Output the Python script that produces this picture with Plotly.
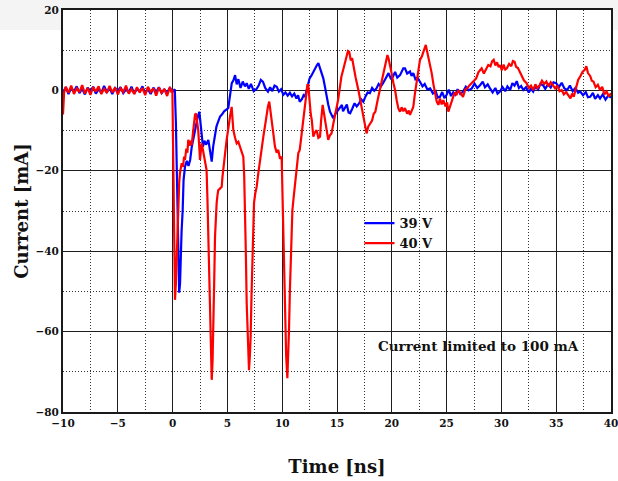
import plotly.graph_objects as go

# Oscilloscope current traces: (time [ns], current [mA])
BLUE_39V = [
    (-10.0, -0.5), (-9.75, 0.8), (-9.5, -0.9), (-9.25, 0.6), (-9.0, -0.3), (-8.75, 1.0),
    (-8.5, -0.7), (-8.25, 0.4), (-8.0, -1.0), (-7.75, 0.7), (-7.5, -0.2), (-7.25, 0.9),
    (-7.0, -0.8), (-6.75, 0.3), (-6.5, -0.6), (-6.25, 1.1), (-6.0, -0.4), (-5.75, 0.5),
    (-5.5, -0.9), (-5.25, 0.6), (-5.0, -0.2), (-4.75, 0.8), (-4.5, -0.7), (-4.25, 0.2),
    (-4.0, -0.5), (-3.75, 0.9), (-3.5, -0.8), (-3.25, 0.4), (-3.0, -0.3), (-2.75, 1.0),
    (-2.5, -0.6), (-2.25, 0.3), (-2.0, -0.9), (-1.75, 0.7), (-1.5, -0.4), (-1.25, 0.8),
    (-1.0, -0.7), (-0.75, 0.2), (-0.5, -0.5), (-0.25, 0.6), (0.0, -0.3), (0.2, 0.3),
    (0.3, -8.0), (0.4, -25.0), (0.5, -42.0), (0.6, -50.3), (0.68, -48.0), (0.74, -41.4),
    (0.82, -35.0), (0.92, -29.8), (1.0, -22.3), (1.13, -19.0), (1.3, -17.5), (1.45, -18.8),
    (1.6, -17.3), (1.75, -14.0), (1.9, -12.0), (2.05, -9.5), (2.2, -7.4), (2.3, -6.5),
    (2.44, -5.3), (2.55, -8.0), (2.65, -11.0), (2.77, -14.0), (2.9, -12.5), (3.05, -13.5),
    (3.26, -12.3), (3.4, -15.0), (3.57, -17.7), (3.7, -14.0), (3.87, -10.6), (4.0, -9.0),
    (4.15, -7.8), (4.33, -6.5), (4.5, -6.0), (4.7, -5.2), (4.9, -4.8), (5.08, -4.4),
    (5.2, -2.0), (5.3, 0.5), (5.4, 1.8), (5.55, 2.5), (5.7, 3.8), (5.85, 1.5),
    (6.0, 2.8), (6.2, 0.6), (6.4, 2.2), (6.6, 1.0), (6.76, 1.8), (6.95, 0.4),
    (7.15, 1.6), (7.4, -0.2), (7.67, 0.4), (7.85, 1.2), (8.05, 2.6), (8.25, 2.1),
    (8.45, 0.6), (8.7, -0.3), (8.9, 0.8), (9.1, -0.2), (9.3, 1.2), (9.5, 0.9),
    (9.7, -0.3), (9.9, 0.3), (10.1, -1.1), (10.3, -0.5), (10.5, -1.3), (10.7, -0.6),
    (10.9, -1.5), (11.1, -0.8), (11.3, -2.0), (11.45, -1.2), (11.6, -2.8), (11.8, -2.2),
    (11.95, -1.2), (12.08, -1.6), (12.25, 0.5), (12.4, 1.8), (12.5, 3.0), (12.65, 3.6),
    (12.84, 4.7), (13.0, 5.5), (13.15, 6.2), (13.3, 6.8), (13.45, 5.6), (13.6, 4.7),
    (13.75, 3.0), (13.9, 0.9), (14.05, -1.5), (14.2, -3.5), (14.36, -5.3), (14.5, -6.2),
    (14.66, -6.9), (14.85, -5.8), (15.05, -5.0), (15.27, -4.4), (15.45, -3.6), (15.55, -5.2),
    (15.7, -4.4), (15.9, -3.5), (16.05, -5.5), (16.2, -5.7), (16.4, -4.5), (16.6, -3.2),
    (16.8, -4.0), (17.0, -3.3), (17.2, -2.2), (17.4, -2.8), (17.6, -1.5), (17.8, -0.5),
    (18.0, -0.7), (18.2, 0.6), (18.4, -0.1), (18.6, 0.5), (18.8, 1.6), (19.0, 1.0),
    (19.2, 1.8), (19.4, 2.8), (19.55, 3.5), (19.7, 4.3), (19.9, 3.0), (20.1, 3.4),
    (20.3, 4.6), (20.5, 3.2), (20.75, 3.8), (20.95, 4.8), (21.05, 5.5), (21.2, 5.5),
    (21.4, 4.2), (21.66, 4.7), (21.8, 3.6), (21.96, 4.3), (22.15, 2.8), (22.35, 3.2),
    (22.57, 2.2), (22.8, 1.0), (23.0, 1.6), (23.25, 0.2), (23.5, 0.5), (23.75, -0.8),
    (24.0, -0.2), (24.2, -1.8), (24.4, -1.6), (24.6, -0.4), (24.8, -1.9), (25.0, -1.1),
    (25.2, 0.2), (25.4, -1.4), (25.6, -0.5), (25.8, -1.1), (26.0, 0.3), (26.25, -0.9),
    (26.5, -0.3), (26.75, 0.9), (27.0, 0.0), (27.3, 0.5), (27.55, 1.7), (27.8, 0.6),
    (28.05, 1.3), (28.3, 2.2), (28.5, 0.8), (28.75, 1.5), (28.96, 0.5), (29.2, -0.5),
    (29.45, 0.6), (29.65, -0.8), (29.87, -0.3), (30.1, 0.8), (30.35, -0.2), (30.55, 1.0),
    (30.8, 0.1), (31.0, 1.8), (31.2, 1.2), (31.4, 2.3), (31.6, 0.6), (31.8, 1.1),
    (32.0, 0.1), (32.25, 0.8), (32.5, -0.5), (32.7, 0.4), (32.9, -0.3), (33.1, 0.9),
    (33.35, 0.2), (33.55, 1.6), (33.8, 1.3), (34.0, 0.4), (34.25, 1.5), (34.5, 0.7),
    (34.75, 2.0), (35.0, 1.8), (35.25, 0.8), (35.5, 1.9), (35.75, 0.5), (36.0, 0.1),
    (36.25, 1.2), (36.5, -0.2), (36.75, 0.6), (37.0, -0.6), (37.2, -0.3), (37.45, -1.2),
    (37.7, -0.4), (37.9, -1.7), (38.1, -1.6), (38.35, -0.6), (38.55, -2.1), (38.8, -1.2),
    (39.0, -2.0), (39.25, -1.0), (39.5, -2.3), (39.75, -1.3), (40.0, -1.8),
]

RED_40V = [
    (-10.0, -6.0), (-9.9, -0.5), (-9.75, 0.9), (-9.5, -0.6), (-9.25, 1.2), (-9.0, -0.9),
    (-8.75, 0.5), (-8.5, -0.4), (-8.25, 1.3), (-8.0, -0.8), (-7.75, 0.6), (-7.5, -1.1),
    (-7.25, 0.8), (-7.0, -0.3), (-6.75, 1.0), (-6.5, -0.9), (-6.25, 0.4), (-6.0, -0.6),
    (-5.75, 1.1), (-5.5, -0.5), (-5.25, 0.7), (-5.0, -1.0), (-4.75, 0.5), (-4.5, -0.4),
    (-4.25, 1.2), (-4.0, -0.8), (-3.75, 0.3), (-3.5, -0.9), (-3.25, 0.8), (-3.0, -0.5),
    (-2.75, 0.6), (-2.5, -1.2), (-2.25, 0.9), (-2.0, -0.4), (-1.75, 0.5), (-1.5, -1.3),
    (-1.25, 0.7), (-1.0, -0.6), (-0.75, 0.4), (-0.5, -1.4), (-0.25, 0.8), (-0.1, -0.5),
    (-0.02, 0.3), (0.08, -25.0), (0.16, -45.0), (0.22, -52.1), (0.3, -48.0), (0.37, -41.4),
    (0.45, -34.0), (0.52, -28.0), (0.6, -23.0), (0.67, -20.6), (0.75, -19.5), (0.83, -18.1),
    (0.95, -19.0), (1.05, -16.5), (1.13, -17.3), (1.25, -14.5), (1.35, -15.5), (1.43, -12.3),
    (1.55, -13.8), (1.65, -12.5), (1.74, -13.6), (1.85, -10.5), (1.95, -8.0), (2.04, -6.1),
    (2.13, -5.7), (2.22, -7.5), (2.34, -9.9), (2.42, -13.5), (2.5, -17.3), (2.58, -15.0),
    (2.65, -13.2), (2.75, -14.5), (2.89, -16.5), (3.0, -18.2), (3.1, -19.8), (3.18, -27.0),
    (3.26, -36.4), (3.34, -45.0), (3.41, -52.9), (3.5, -66.0), (3.57, -72.0), (3.65, -67.0),
    (3.72, -60.4), (3.8, -47.0), (3.87, -36.4), (3.95, -31.0), (4.02, -28.0), (4.1, -26.0),
    (4.17, -24.8), (4.3, -24.5), (4.48, -24.0), (4.55, -21.5), (4.63, -19.0), (4.75, -16.0),
    (4.85, -14.2), (4.93, -12.3), (5.05, -9.5), (5.15, -7.8), (5.24, -6.5), (5.39, -4.1),
    (5.47, -6.5), (5.54, -9.9), (5.7, -11.8), (5.85, -13.2), (6.0, -12.8), (6.15, -14.0),
    (6.3, -15.2), (6.45, -16.5), (6.53, -21.0), (6.6, -28.0), (6.68, -40.0), (6.76, -52.9),
    (6.85, -62.0), (6.97, -69.6), (7.05, -66.0), (7.12, -61.2), (7.2, -51.0), (7.27, -41.4),
    (7.35, -34.0), (7.43, -28.0), (7.55, -25.5), (7.67, -24.0), (7.8, -21.0), (7.97, -17.3),
    (8.1, -14.5), (8.28, -11.5), (8.45, -8.5), (8.58, -5.7), (8.7, -4.0), (8.82, -2.8),
    (8.93, -4.8), (9.04, -7.4), (9.18, -10.5), (9.34, -14.0), (9.5, -15.5), (9.64, -14.8),
    (9.8, -17.0), (9.95, -16.5), (10.02, -25.0), (10.1, -36.4), (10.18, -47.0), (10.26, -57.1),
    (10.36, -66.0), (10.47, -71.6), (10.55, -67.0), (10.62, -59.6), (10.7, -50.0), (10.78, -41.4),
    (10.85, -35.0), (10.93, -29.8), (11.05, -26.5), (11.17, -24.0), (11.3, -20.0), (11.47, -15.6),
    (11.6, -14.8), (11.78, -10.7), (11.95, -7.0), (12.08, -3.2), (12.2, -0.5), (12.3, 1.3),
    (12.38, 1.3), (12.5, -3.5), (12.6, -5.8), (12.7, -7.4), (12.84, -11.5), (12.98, -10.5),
    (13.14, -9.9), (13.3, -11.8), (13.45, -11.5), (13.55, -7.5), (13.69, -3.6), (13.8, -5.5),
    (13.9, -7.4), (14.05, -10.0), (14.2, -12.3), (14.35, -11.2), (14.5, -10.7), (14.65, -8.5),
    (14.8, -6.5), (14.95, -4.5), (15.1, -2.4), (15.25, 0.5), (15.4, 3.4), (15.6, 5.5),
    (15.75, 7.0), (15.88, 8.4), (16.0, 9.8), (16.12, 9.6), (16.25, 7.5), (16.38, 8.0),
    (16.5, 5.9), (16.7, 3.2), (16.95, 0.1), (17.1, -2.2), (17.25, -4.4), (17.45, -7.5),
    (17.6, -9.2), (17.7, -10.7), (17.85, -9.0), (18.0, -8.2), (18.2, -7.5), (18.35, -5.8),
    (18.5, -5.3), (18.7, -2.5), (18.9, 0.1), (19.05, 2.0), (19.2, 4.3), (19.4, 6.5),
    (19.5, 7.8), (19.6, 8.8), (19.7, 8.0), (19.85, 5.5), (19.98, 4.3), (20.15, 1.8),
    (20.3, 0.1), (20.45, -2.5), (20.6, -4.5), (20.75, -5.3), (20.9, -4.2), (21.05, -5.2),
    (21.2, -4.4), (21.4, -5.8), (21.55, -5.0), (21.66, -6.1), (21.8, -5.0), (21.96, -4.1),
    (22.1, -1.0), (22.27, 2.6), (22.4, 5.0), (22.57, 7.6), (22.75, 8.5), (22.9, 9.8),
    (23.0, 10.5), (23.1, 11.3), (23.2, 10.0), (23.33, 8.4), (23.5, 6.5), (23.64, 4.3),
    (23.8, 1.5), (23.94, -0.7), (24.1, -2.8), (24.25, -3.6), (24.4, -2.0), (24.55, -3.5),
    (24.7, -2.4), (24.9, -4.0), (25.05, -3.0), (25.16, -5.3), (25.3, -4.0), (25.45, -2.5),
    (25.6, -1.6), (25.75, -0.5), (25.9, -1.2), (26.07, 0.1), (26.25, -0.6), (26.5, -1.6),
    (26.7, 0.2), (26.9, 0.6), (27.1, 1.3), (27.3, 2.0), (27.5, 2.4), (27.7, 3.0),
    (27.9, 4.5), (28.05, 5.0), (28.2, 5.5), (28.4, 4.2), (28.6, 5.1), (28.8, 6.3),
    (29.0, 6.0), (29.15, 7.2), (29.3, 7.6), (29.45, 6.2), (29.6, 7.0), (29.75, 5.8),
    (29.87, 6.3), (30.05, 5.0), (30.2, 6.4), (30.35, 5.2), (30.5, 5.5), (30.7, 6.6),
    (30.9, 6.0), (31.05, 7.3), (31.2, 7.1), (31.35, 5.8), (31.5, 5.6), (31.7, 4.3),
    (31.85, 3.8), (32.05, 2.5), (32.3, 1.8), (32.5, 0.6), (32.7, 1.2), (32.9, 0.1),
    (33.1, 1.5), (33.3, 0.6), (33.5, 1.3), (33.7, 2.4), (33.9, 1.6), (34.1, 2.2),
    (34.3, 1.0), (34.5, 2.0), (34.7, 1.3), (34.9, 0.5), (35.1, 1.2), (35.3, -0.2),
    (35.5, 0.1), (35.7, -1.0), (35.9, -0.4), (36.1, -1.1), (36.3, -2.0), (36.45, -0.8),
    (36.6, -1.6), (36.8, 0.5), (37.0, 2.6), (37.2, 3.5), (37.4, 4.6), (37.6, 5.1),
    (37.75, 6.0), (37.9, 4.3), (38.1, 3.6), (38.25, 2.4), (38.4, 2.2), (38.6, 0.8),
    (38.8, 1.4), (39.0, 0.1), (39.2, 0.9), (39.4, -1.0), (39.6, -0.3), (39.8, -1.5),
    (40.0, -0.7),
]

SERIES_NAMES = ["39 V", "40 V"]
SERIES_COLORS = ["#0000ff", "#ff0000"]
X_TICKS = [-10, -5, 0, 5, 10, 15, 20, 25, 30, 35, 40]
Y_TICKS = [20, 0, -20, -40, -60, -80]
NOTE = "Current limited to 100 mA"

FONT = "DejaVu Serif"

fig = go.Figure()
for pts, name, color in zip([BLUE_39V, RED_40V], SERIES_NAMES, SERIES_COLORS):
    t, i = zip(*pts)
    fig.add_trace(go.Scatter(
        x=list(t), y=list(i), mode="lines", name=name,
        line=dict(color=color, width=2.2),
    ))

axis_common = dict(
    showline=True, linecolor="#1a1a1a", linewidth=2, mirror=True,
    showgrid=True, gridcolor="#1e1e1e", gridwidth=1.2,
    zeroline=False, ticks="", automargin=False, ticklabeloverflow="allow",
    tickfont=dict(family=FONT, size=10.5, color="#111111", weight="bold"),
)
minor_grid = dict(showgrid=True, gridcolor="#333333", griddash="1px,2px", gridwidth=1)

fig.update_xaxes(
    range=[-10, 40], tickvals=X_TICKS,
    minor=dict(dtick=2.5, tick0=-10, **minor_grid),
    title=dict(text="Time [ns]", standoff=33,
               font=dict(family=FONT, size=18, color="#111111", weight="bold")),
    **axis_common,
)
fig.update_yaxes(
    range=[-80, 20], tickvals=Y_TICKS,
    minor=dict(dtick=10, tick0=-80, **minor_grid),
    title=dict(text="Current [mA]", standoff=2,
               font=dict(family=FONT, size=18, color="#111111", weight="bold")),
    **axis_common,
)

fig.add_annotation(
    x=27.9, y=-63.6, xref="x", yref="y", text=NOTE, showarrow=False,
    font=dict(family=FONT, size=13.5, color="#111111", weight="bold"),
)

# light strip along the top edge of the page
for x0, x1, y0, y1 in [(-0.12, 1.02, 1.0, 1.03), (-0.12, 0.0, 0.95, 1.0), (1.0, 1.02, 0.95, 1.0)]:
    fig.add_shape(type="rect", xref="paper", yref="paper", x0=x0, x1=x1, y0=y0, y1=y1,
                  fillcolor="#f4f4f4", line=dict(width=0), layer="below")

fig.update_layout(
    width=618, height=481,
    margin=dict(l=63, r=7, t=10, b=69),
    paper_bgcolor="white", plot_bgcolor="white",
    showlegend=True,
    legend=dict(x=0.541, y=0.507, xanchor="left", yanchor="top",
                bgcolor="rgba(0,0,0,0)", borderwidth=0,
                font=dict(family=FONT, size=13, color="#111111", weight="bold"),
                tracegroupgap=0),
)

fig.write_html("out.html")
